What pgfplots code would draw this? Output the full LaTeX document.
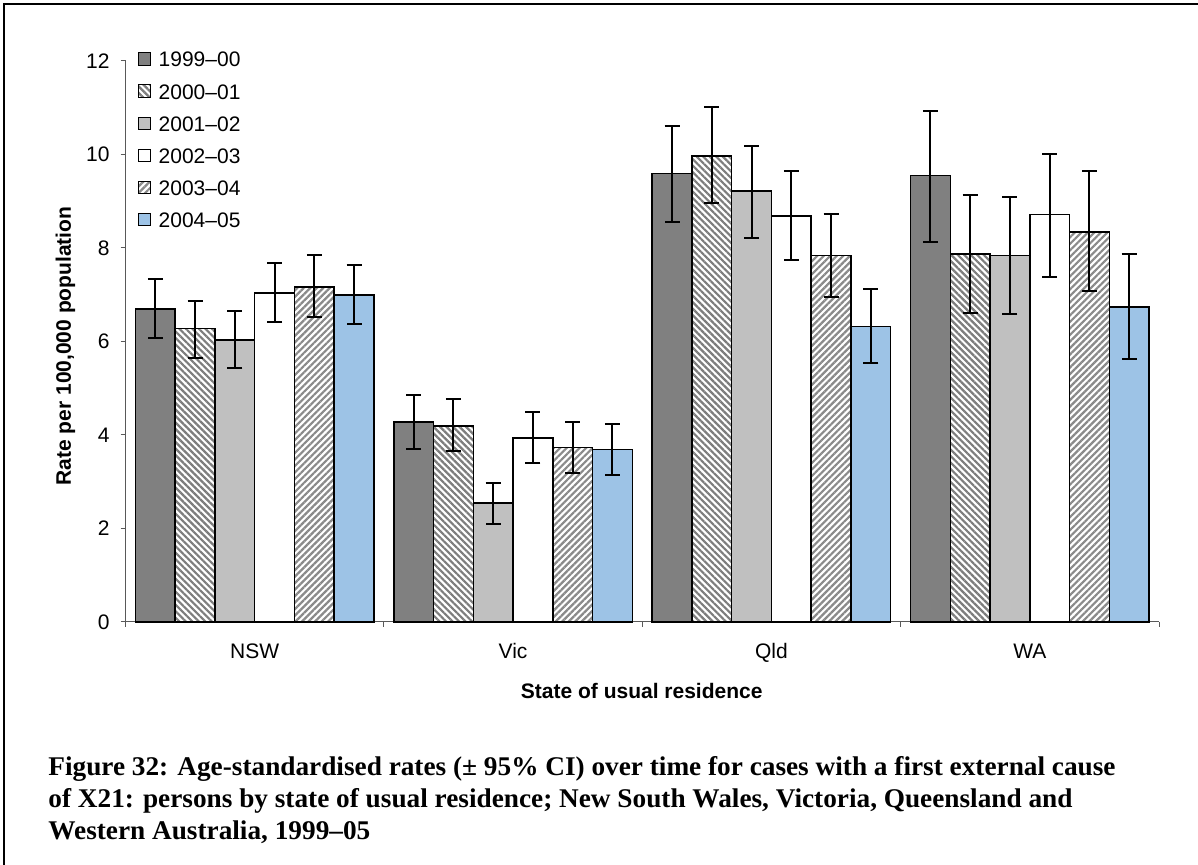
\documentclass[border=0pt]{standalone}
\usepackage{fontspec}
\setmainfont{Liberation Sans}
\newfontfamily\capfont{Liberation Serif}[Ligatures=TeX, FakeStretch=1.01]
\usepackage{pgfplots}
\pgfplotsset{compat=1.18}
\usepackage{pgfplotstable}
\usetikzlibrary{patterns.meta}

\definecolor{darkbar}{RGB}{128,128,128}
\definecolor{lightbar}{RGB}{192,192,192}
\definecolor{bluebar}{RGB}{157,195,230}
\definecolor{hatch}{RGB}{125,125,125}

\newcommand\chartfont{\fontsize{10.5pt}{12.6pt}\selectfont}

% columns: state index, rate, upper and lower half-widths of the 95% CI
\pgfplotstableread{
x y ep em
0 6.70 0.64 0.63
1 4.28 0.58 0.59
2 9.59 1.01 1.04
3 9.55 1.38 1.42
}\yrA
\pgfplotstableread{
x y ep em
0 6.28 0.59 0.63
1 4.19 0.58 0.54
2 9.97 1.05 1.01
3 7.87 1.26 1.25
}\yrB
\pgfplotstableread{
x y ep em
0 6.03 0.63 0.59
1 2.55 0.42 0.45
2 9.22 0.96 1.01
3 7.84 1.25 1.26
}\yrC
\pgfplotstableread{
x y ep em
0 7.04 0.64 0.63
1 3.94 0.55 0.53
2 8.68 0.97 0.93
3 8.72 1.30 1.35
}\yrD
\pgfplotstableread{
x y ep em
0 7.17 0.68 0.64
1 3.73 0.55 0.54
2 7.84 0.88 0.89
3 8.34 1.30 1.26
}\yrE
\pgfplotstableread{
x y ep em
0 7.00 0.64 0.63
1 3.69 0.55 0.55
2 6.32 0.80 0.79
3 6.74 1.13 1.12
}\yrF

\begin{document}
\begin{tikzpicture}
\useasboundingbox (0,0) rectangle (599pt,432.5pt);
% frame
\draw[line width=1pt] (2pt,0) -- (2pt,430.5pt) -- (599pt,430.5pt);
\coordinate (plotorigin) at (62.75pt,121.5pt);

\begin{axis}[
  at={(plotorigin)}, anchor=south west,
  scale only axis, width=516.75pt, height=280.5pt,
  clip=false,
  axis lines*=left,
  axis line style={black!65, line width=0.5pt},
  xmin=-0.5, xmax=3.5, ymin=0, ymax=12,
  ytick={0,2,...,12},
  xtick={0,1,2,3},
  xticklabels={NSW,Vic,Qld,WA},
  minor xtick={-0.5,0.5,1.5,2.5,3.5},
  tick align=outside,
  major tick length=2.5pt, minor tick length=2.5pt,
  xtick style={draw=none},
  minor x tick style={draw=black!65, line width=0.5pt},
  y tick style={black!65, line width=0.5pt},
  tick label style={font=\chartfont},
  /pgf/number format/assume math mode=true,
  yticklabel style={anchor=east, inner sep=0pt, xshift=-5.25pt},
  xticklabel style={anchor=base, inner sep=0pt, yshift=-15.9pt},
  xlabel={\bfseries State of usual residence},
  xlabel style={font=\chartfont, at={(axis description cs:0.4995,-0.1355)}, anchor=base, inner sep=0pt},
  ylabel={\bfseries Rate per 100,000 population},
  ylabel style={font=\chartfont, at={(axis description cs:-0.05273,0.492)}, anchor=base, inner sep=0pt},
  ybar=0pt, bar width=19.875pt,
  legend style={at={(0,1)}, anchor=north west, xshift=6.25pt, yshift=4.5pt,
    draw=none, fill=none, inner sep=0pt, outer sep=0pt, font=\chartfont,
    row sep=8.55pt,
    nodes={inner sep=0pt, text height=7.5pt, text depth=0pt}},
  legend cell align=left,
  legend image code/.code={%
    \draw[#1, line width=0.5pt] (0pt,-2.9pt) rectangle (6.2pt,3.3pt);
    \path (9.7pt,0pt);},
  every axis plot/.append style={draw=black, line width=0.8pt},
  ci/.style={error bars/y dir=both, error bars/y explicit,
    error bars/error bar style={line width=1pt, black},
    error bars/error mark options={rotate=90, mark size=3.75pt, line width=1pt, black}},
]
\addplot[fill=darkbar, ci] table[x=x, y=y, y error plus=ep, y error minus=em] {\yrA};
\addlegendentry{1999–00}
\addplot[fill=white, postaction={pattern={Lines[angle=-45, distance=2.3pt, line width=1.1pt]}, pattern color=hatch}, ci]
  table[x=x, y=y, y error plus=ep, y error minus=em] {\yrB};
\addlegendentry{2000–01}
\addplot[fill=lightbar, ci] table[x=x, y=y, y error plus=ep, y error minus=em] {\yrC};
\addlegendentry{2001–02}
\addplot[fill=white, ci] table[x=x, y=y, y error plus=ep, y error minus=em] {\yrD};
\addlegendentry{2002–03}
\addplot[fill=white, postaction={pattern={Lines[angle=45, distance=2.3pt, line width=1.1pt]}, pattern color=hatch!90}, ci]
  table[x=x, y=y, y error plus=ep, y error minus=em] {\yrE};
\addlegendentry{2003–04}
\addplot[fill=bluebar, ci] table[x=x, y=y, y error plus=ep, y error minus=em] {\yrF};
\addlegendentry{2004–05}
\end{axis}

% caption
\begin{scope}[every node/.style={anchor=base west, inner sep=0pt, font=\capfont\bfseries\fontsize{13.5pt}{16pt}\selectfont}]
\node at (24pt,44.5pt) {Figure 32: Age-standardised rates (± 95\% CI) over time for cases with a first external cause};
\node at (24pt,28.5pt) {of X21: persons by state of usual residence; New South Wales, Victoria, Queensland and};
\node at (24pt,12.5pt) {Western Australia, 1999–05};
\end{scope}
\end{tikzpicture}
\end{document}
